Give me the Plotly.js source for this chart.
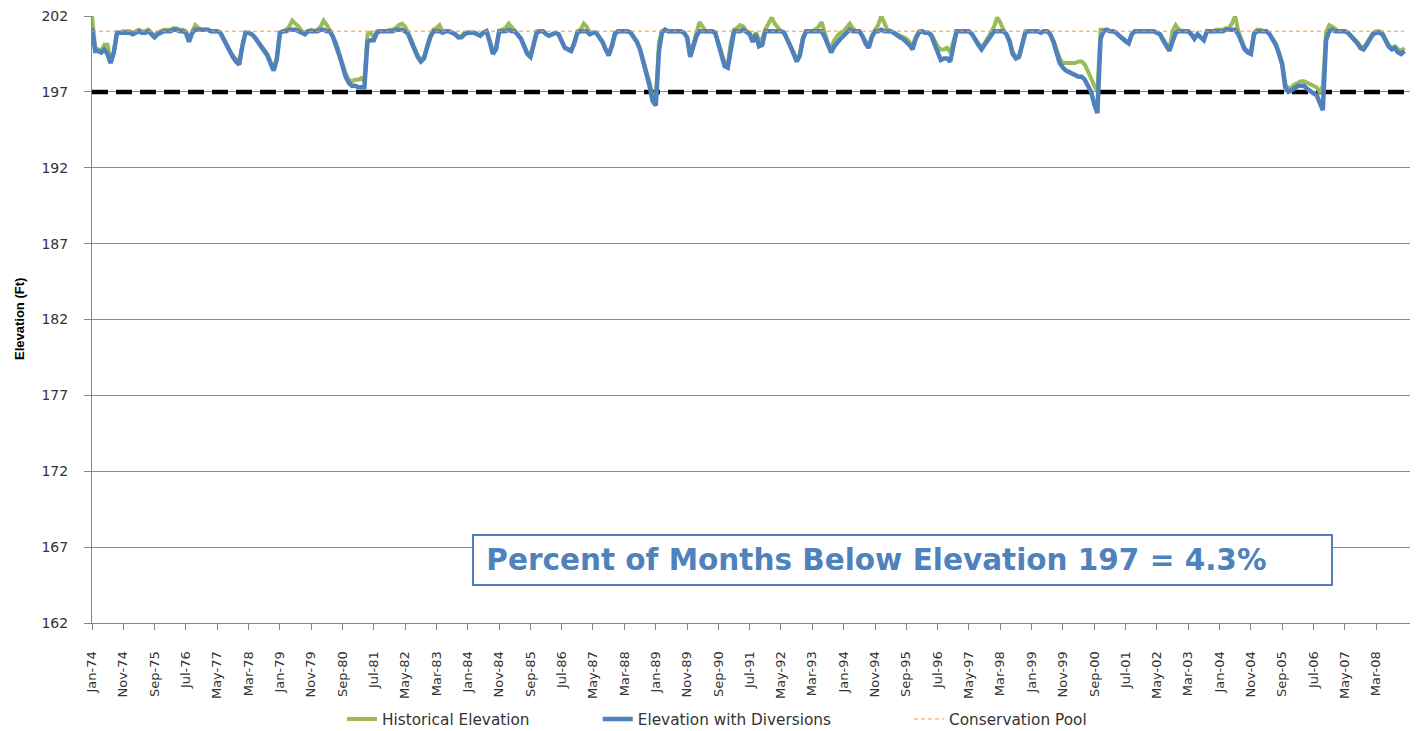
<!DOCTYPE html>
<html><head><meta charset="utf-8">
<script src="https://cdn.plot.ly/plotly-3.0.1.min.js"></script>
<style>html,body{margin:0;padding:0;background:#fff}#chart{width:1419px;height:731px}</style>
</head><body><div id="chart"></div>
<script>
const startYear = 1974;

// Monthly elevations (ft), Jan-1974 .. Dec-2008, one row per year
const historical = [
202.0,199.9,199.8,199.7,200.1,200.1,199.0,199.6,200.9,200.9,201.0,201.0,
201.0,200.9,201.0,201.1,201.0,201.0,201.1,200.9,200.7,200.9,201.0,201.1,
201.1,201.1,201.2,201.2,201.1,201.1,201.0,200.4,201.0,201.4,201.2,201.1,
201.1,201.1,201.0,201.0,201.0,200.9,200.5,200.0,199.7,199.4,199.1,198.9,
200.1,200.9,200.9,200.8,200.6,200.3,200.0,199.8,199.5,199.0,198.5,199.2,
200.9,201.0,201.1,201.3,201.7,201.5,201.3,201.0,200.9,201.0,201.1,201.0,
201.1,201.3,201.7,201.4,201.0,200.7,200.2,199.5,198.9,198.2,197.8,197.7,
197.8,197.8,197.9,197.7,200.8,200.9,200.6,201.0,201.0,201.0,201.0,201.1,
201.1,201.2,201.4,201.5,201.3,200.9,200.4,199.8,199.4,199.1,199.3,200.0,
200.7,201.1,201.2,201.4,201.0,201.0,201.0,200.9,200.8,200.6,200.7,200.9,
200.9,200.9,200.9,200.8,200.7,200.9,201.0,200.4,199.6,199.9,201.0,201.1,
201.2,201.5,201.3,201.0,200.8,200.5,200.1,199.6,199.4,200.1,201.0,201.0,
201.0,200.8,200.7,200.8,200.9,200.8,200.4,199.9,199.8,199.7,200.3,201.0,
201.1,201.5,201.3,200.9,200.9,200.9,200.6,200.3,199.8,199.5,200.1,200.9,
201.0,201.0,201.0,201.0,200.9,200.6,200.3,199.8,199.1,198.4,197.6,196.7,
196.5,200.3,201.0,201.1,201.0,201.0,201.0,201.0,201.0,200.9,200.6,199.4,
200.1,200.9,201.6,201.3,201.0,201.0,201.0,200.9,200.2,199.5,198.9,198.8,
200.3,201.1,201.2,201.4,201.3,201.0,200.9,200.5,200.9,200.4,200.5,201.1,
201.5,201.9,201.5,201.2,201.0,200.9,200.5,200.0,199.6,199.1,199.5,200.6,
201.0,201.0,201.0,201.1,201.3,201.6,201.0,200.2,199.9,200.4,200.7,200.9,
201.0,201.3,201.5,201.2,201.0,201.0,200.7,200.3,200.0,200.7,201.1,201.4,
202.0,201.5,201.1,201.0,200.9,200.8,200.7,200.6,200.5,200.3,200.0,200.6,
201.0,201.0,200.9,200.9,200.8,200.4,200.0,199.8,199.8,199.9,199.6,200.3,
201.0,201.0,201.0,201.0,201.0,200.8,200.5,200.2,199.9,200.2,200.5,200.9,
201.3,201.9,201.6,201.1,200.8,200.4,199.6,199.3,199.4,200.1,201.0,201.0,
201.0,201.0,201.0,200.9,201.0,201.0,200.8,200.4,199.7,199.2,198.9,198.9,
198.9,198.9,198.9,199.0,199.0,198.8,198.4,197.9,197.4,197.0,201.1,201.1,
201.1,201.0,201.0,200.9,200.7,200.5,200.3,200.2,200.8,201.0,201.0,201.0,
201.0,201.0,201.0,201.0,200.9,200.8,200.5,200.1,199.8,201.0,201.4,201.1,
201.0,201.0,201.0,200.8,200.6,200.8,200.6,200.5,201.0,201.0,201.0,201.1,
201.1,201.1,201.2,201.2,201.5,202.0,201.0,200.4,199.9,199.7,199.6,200.9,
201.1,201.1,201.0,201.0,200.8,200.5,200.2,199.6,198.9,197.5,197.2,197.3,
197.5,197.6,197.7,197.7,197.6,197.5,197.4,197.3,197.0,197.4,200.9,201.4,
201.3,201.1,201.0,201.0,201.0,200.9,200.7,200.5,200.3,200.0,199.9,200.2,
200.6,200.9,201.0,201.0,200.9,200.5,200.1,199.9,200.0,199.8,199.7,199.9
];

const withDiversions = [
201.2,199.7,199.7,199.6,199.8,199.5,198.9,199.6,200.9,200.9,200.9,200.9,
200.9,200.8,200.9,201.0,200.9,200.9,201.0,200.8,200.6,200.8,200.9,201.0,
201.0,201.0,201.1,201.1,201.0,201.0,200.9,200.3,200.9,201.1,201.1,201.1,
201.1,201.1,201.0,201.0,201.0,200.9,200.5,200.0,199.6,199.3,199.0,198.8,
200.0,200.9,200.9,200.8,200.6,200.3,200.0,199.7,199.4,198.9,198.4,199.1,
200.9,201.0,201.0,201.1,201.1,201.1,201.0,200.9,200.8,201.0,201.0,201.0,
201.0,201.1,201.1,201.0,201.0,200.6,200.1,199.4,198.7,198.0,197.6,197.4,
197.4,197.3,197.3,197.3,200.3,200.4,200.4,200.9,201.0,201.0,201.0,201.0,
201.0,201.1,201.1,201.1,201.0,200.8,200.3,199.7,199.3,199.0,199.2,199.9,
200.6,201.0,201.0,201.0,200.9,201.0,201.0,200.9,200.8,200.6,200.6,200.8,
200.9,200.9,200.9,200.8,200.7,200.9,201.0,200.3,199.5,199.8,201.0,201.0,
201.0,201.1,201.0,201.0,200.8,200.5,200.0,199.5,199.3,200.0,200.9,201.0,
201.0,200.8,200.7,200.8,200.9,200.8,200.4,199.9,199.8,199.7,200.2,200.9,
201.0,201.0,201.0,200.8,200.9,200.9,200.6,200.3,199.8,199.4,200.0,200.8,
201.0,201.0,201.0,201.0,200.9,200.6,200.3,199.8,199.0,198.3,197.4,196.4,
196.1,199.7,200.9,201.1,201.0,201.0,201.0,201.0,201.0,200.9,200.6,199.3,
200.0,200.7,201.0,201.0,201.0,201.0,201.0,200.9,200.1,199.3,198.7,198.6,
200.0,201.0,201.0,201.0,201.1,200.9,200.8,200.3,200.8,200.0,200.1,201.0,
201.0,201.0,201.0,201.0,201.0,200.9,200.5,200.0,199.5,199.0,199.4,200.5,
201.0,201.0,201.0,201.0,201.0,201.0,200.6,200.0,199.6,200.0,200.3,200.5,
200.7,200.9,201.1,201.0,201.0,201.0,200.7,200.2,199.9,200.6,201.0,201.0,
201.1,201.0,201.0,201.0,200.9,200.7,200.6,200.5,200.3,200.1,199.8,200.5,
200.9,201.0,200.9,200.9,200.7,200.2,199.7,199.1,199.2,199.2,199.0,200.0,
201.0,201.0,201.0,201.0,201.0,200.8,200.4,200.1,199.8,200.1,200.4,200.8,
201.0,201.0,201.0,201.0,200.8,200.3,199.5,199.2,199.3,200.0,200.9,201.0,
201.0,201.0,201.0,200.9,201.0,201.0,200.8,200.3,199.6,198.9,198.6,198.4,
198.3,198.2,198.1,198.0,198.0,197.8,197.4,197.0,196.2,195.6,200.5,201.0,
201.1,201.0,201.0,200.9,200.7,200.5,200.3,200.2,200.8,201.0,201.0,201.0,
201.0,201.0,201.0,201.0,200.9,200.8,200.4,200.0,199.7,200.3,200.9,201.0,
201.0,201.0,201.0,200.8,200.5,200.8,200.6,200.4,201.0,201.0,201.0,201.0,
201.0,201.0,201.1,201.1,201.1,201.1,200.8,200.3,199.8,199.6,199.5,200.8,
201.0,201.0,201.0,201.0,200.8,200.5,200.1,199.5,198.8,197.3,197.0,197.1,
197.3,197.4,197.4,197.4,197.2,197.0,196.9,196.8,196.3,195.8,200.4,201.0,
201.1,201.0,201.0,201.0,201.0,200.9,200.7,200.4,200.2,199.9,199.8,200.1,
200.5,200.8,200.9,200.9,200.8,200.4,200.0,199.8,199.9,199.6,199.5,199.7
];

const conservationPool = 201.0;
const thresholdElevation = 197;

const tickLabels = ['Jan-74','Nov-74','Sep-75','Jul-76','May-77','Mar-78','Jan-79','Nov-79','Sep-80','Jul-81',
 'May-82','Mar-83','Jan-84','Nov-84','Sep-85','Jul-86','May-87','Mar-88','Jan-89','Nov-89','Sep-90','Jul-91',
 'May-92','Mar-93','Jan-94','Nov-94','Sep-95','Jul-96','May-97','Mar-98','Jan-99','Nov-99','Sep-00','Jul-01',
 'May-02','Mar-03','Jan-04','Nov-04','Sep-05','Jul-06','May-07','Mar-08'];
const tickStepMonths = 10;
const yTicks = [162,167,172,177,182,187,192,197,202];
const seriesNames = ['Historical Elevation','Elevation with Diversions','Conservation Pool'];
const boxText = 'Percent of Months Below Elevation 197 = 4.3%';
const yTitle = 'Elevation (Ft)';

const months = historical.map((_, i) => {
  const y = startYear + Math.floor(i / 12);
  const m = (i % 12) + 1;
  return y + '-' + String(m).padStart(2, '0') + '-01';
});
const tickVals = tickLabels.map((_, k) => months[k * tickStepMonths]);
const nb = n => '\u00a0'.repeat(n);

const traces = [
  {x: months, y: months.map(() => thresholdElevation), type: 'scatter', mode: 'lines',
   line: {color: '#000000', width: 4.5, dash: '16px,8px'}, showlegend: false, hoverinfo: 'skip'},
  {x: months, y: historical, type: 'scatter', mode: 'lines', name: seriesNames[0] + nb(13),
   line: {color: '#9bbb59', width: 4}},
  {x: months, y: withDiversions, type: 'scatter', mode: 'lines', name: seriesNames[1] + nb(15),
   line: {color: '#4f81bd', width: 4.5}},
  {x: months, y: months.map(() => conservationPool), type: 'scatter', mode: 'lines', name: seriesNames[2],
   line: {color: '#f79646', width: 1, dash: '4px,3px'}}
];

const layout = {
  width: 1419, height: 731,
  margin: {l: 92, r: 9, t: 16, b: 108},
  paper_bgcolor: '#ffffff', plot_bgcolor: '#ffffff',
  font: {family: 'DejaVu Sans, sans-serif', color: '#333333', size: 12},
  xaxis: {
    type: 'date', range: [months[0], '2009-01-25'], automargin: false,
    tickmode: 'array', tickvals: tickVals, ticktext: tickLabels,
    tickangle: -90, tickfont: {family: 'DejaVu Sans, sans-serif', size: 13, color: '#333333'},
    ticks: 'outside', ticklen: 6, tickcolor: '#868686', ticklabelstandoff: 16,
    showgrid: false, showline: true, linecolor: '#868686', linewidth: 1, zeroline: false
  },
  yaxis: {
    range: [162, 202], tickmode: 'array', tickvals: yTicks, automargin: false,
    tickfont: {family: 'DejaVu Sans, sans-serif', size: 14, color: '#333333'},
    ticks: 'outside', ticklen: 7, tickcolor: '#868686', ticklabelstandoff: 13,
    showgrid: true, gridcolor: '#8c8c8c', gridwidth: 1,
    showline: true, linecolor: '#868686', linewidth: 1, zeroline: false
  },
  legend: {
    orientation: 'h', xref: 'container', yref: 'container',
    x: 342 / 1419, xanchor: 'left', y: 12 / 731, yanchor: 'middle',
    font: {family: 'DejaVu Sans, sans-serif', size: 15.3, color: '#333333'},
    traceorder: 'normal', itemwidth: 30
  },
  annotations: [
    {xref: 'paper', yref: 'paper', x: (10 - 92) / 1318, y: 0.5, text: '<b>' + yTitle + '</b>',
     textangle: -90, showarrow: false,
     font: {family: 'Liberation Sans, Arial, sans-serif', size: 13, color: '#000000'}},
    {xref: 'paper', yref: 'paper', x: 0.2883, xanchor: 'left', y: 0.1038, yanchor: 'middle',
     text: '<b>' + nb(1) + boxText + '</b>', showarrow: false, align: 'left',
     width: 853, height: 44, borderpad: 2, borderwidth: 2, bordercolor: '#4f81bd', bgcolor: '#ffffff',
     font: {family: 'DejaVu Sans, sans-serif', size: 29.5, color: '#4f81bd'}}
  ],
  showlegend: true
};

Plotly.newPlot('chart', traces, layout, {displayModeBar: false, staticPlot: true});
</script>
</body></html>
